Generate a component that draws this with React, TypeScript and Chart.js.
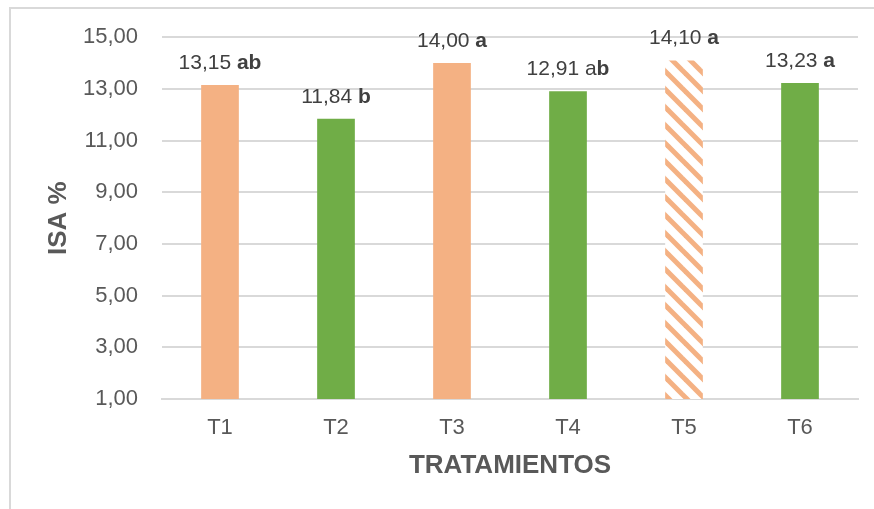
import React, { useEffect, useRef } from 'react';
import { Chart, registerables } from 'chart.js';

Chart.register(...registerables);

// Treatments and their ISA % means with significance letters
const categories = ['T1', 'T2', 'T3', 'T4', 'T5', 'T6'];
const isaValues = [13.15, 11.84, 14.0, 12.91, 14.1, 13.23];
const letterPlain = ['', '', '', 'a', '', ''];
const letterBold = ['ab', 'b', 'a', 'b', 'a', 'a'];
const barKinds = ['orange', 'green', 'orange', 'green', 'hatch', 'green'];

const yMin = 1;
const yMax = 15;
const yStep = 2;

const ORANGE = '#F4B183';
const GREEN = '#70AD47';
const GRID = '#d9d9d9';
const TEXT = '#595959';
const LABEL = '#404040';
const FONT = '"Liberation Sans", Arial, sans-serif';

const fmt = (v: number) => v.toFixed(2).replace('.', ',');

function makeHatch(): CanvasPattern | string {
  const size = 18;
  const c = document.createElement('canvas');
  c.width = size;
  c.height = size;
  const g = c.getContext('2d');
  if (!g) return ORANGE;
  g.fillStyle = '#ffffff';
  g.fillRect(0, 0, size, size);
  g.strokeStyle = ORANGE;
  g.lineWidth = 5;
  for (const k of [-size, 0, size]) {
    g.beginPath();
    g.moveTo(k - 5, -5);
    g.lineTo(k + size + 5, size + 5);
    g.stroke();
  }
  const p = g.createPattern(c, 'repeat');
  return p || ORANGE;
}

const frameBorder = {
  id: 'frameBorder',
  beforeDraw(chart: any) {
    const ctx = chart.ctx;
    ctx.save();
    ctx.strokeStyle = GRID;
    ctx.lineWidth = 2;
    ctx.beginPath();
    ctx.moveTo(10, 509);
    ctx.lineTo(10, 8);
    ctx.lineTo(874, 8);
    ctx.stroke();
    ctx.restore();
  },
};

const valueLabels = {
  id: 'valueLabels',
  afterDatasetsDraw(chart: any) {
    const ctx = chart.ctx;
    const meta = chart.getDatasetMeta(0);
    const regular = `21px ${FONT}`;
    const bold = `bold 21px ${FONT}`;
    ctx.save();
    ctx.fillStyle = LABEL;
    ctx.textBaseline = 'alphabetic';
    ctx.textAlign = 'left';
    meta.data.forEach((bar: any, i: number) => {
      const plain = fmt(isaValues[i]) + ' ' + letterPlain[i];
      ctx.font = regular;
      const w1 = ctx.measureText(plain).width;
      ctx.font = bold;
      const w2 = ctx.measureText(letterBold[i]).width;
      const x0 = bar.x - (w1 + w2) / 2;
      const y = bar.y - 16;
      ctx.font = regular;
      ctx.fillText(plain, x0, y);
      ctx.font = bold;
      ctx.fillText(letterBold[i], x0 + w1, y);
    });
    ctx.restore();
  },
};

export default function App() {
  const canvasRef = useRef<HTMLCanvasElement | null>(null);

  useEffect(() => {
    const canvas = canvasRef.current;
    if (!canvas) return;
    const hatch = makeHatch();
    const colors = barKinds.map((k) => (k === 'green' ? GREEN : k === 'hatch' ? hatch : ORANGE));

    const chart = new Chart(canvas, {
      type: 'bar',
      data: {
        labels: categories,
        datasets: [
          {
            data: isaValues,
            backgroundColor: colors as any,
            borderWidth: 0,
            barPercentage: 0.325,
            categoryPercentage: 1,
          },
        ],
      },
      options: {
        responsive: false,
        animation: false,
        devicePixelRatio: 1,
        layout: { padding: { top: 37, right: 16, bottom: 0, left: 0 } },
        plugins: {
          legend: { display: false },
          tooltip: { enabled: false },
        },
        scales: {
          x: {
            grid: { display: false, drawTicks: false },
            border: { display: true, color: GRID, width: 2 },
            ticks: {
              color: TEXT,
              font: { family: FONT, size: 22 },
              padding: 16,
            },
            title: {
              display: true,
              text: 'TRATAMIENTOS',
              color: TEXT,
              font: { family: FONT, size: 26, weight: 'bold', lineHeight: 1 },
              padding: { top: 0, bottom: 30 },
            },
            afterFit(scale: any) {
              scale.height = 110;
            },
          },
          y: {
            min: yMin,
            max: yMax,
            grid: { color: GRID, lineWidth: 2, drawTicks: false },
            border: { display: false },
            ticks: {
              stepSize: yStep,
              color: TEXT,
              font: { family: FONT, size: 22 },
              padding: 24,
              callback: (v: any) => fmt(Number(v)),
            },
            title: {
              display: true,
              text: 'ISA %',
              color: TEXT,
              font: { family: FONT, size: 26, weight: 'bold', lineHeight: 1 },
              padding: { top: 46, bottom: 0 },
            },
            afterFit(scale: any) {
              scale.width = 162;
            },
          },
        },
      },
      plugins: [frameBorder, valueLabels],
    });

    return () => chart.destroy();
  }, []);

  return (
    <div style={{ position: 'fixed', left: 0, top: 0, width: 874, height: 509, background: '#fff' }}>
      <canvas ref={canvasRef} width={874} height={509} style={{ display: 'block' }} />
    </div>
  );
}
